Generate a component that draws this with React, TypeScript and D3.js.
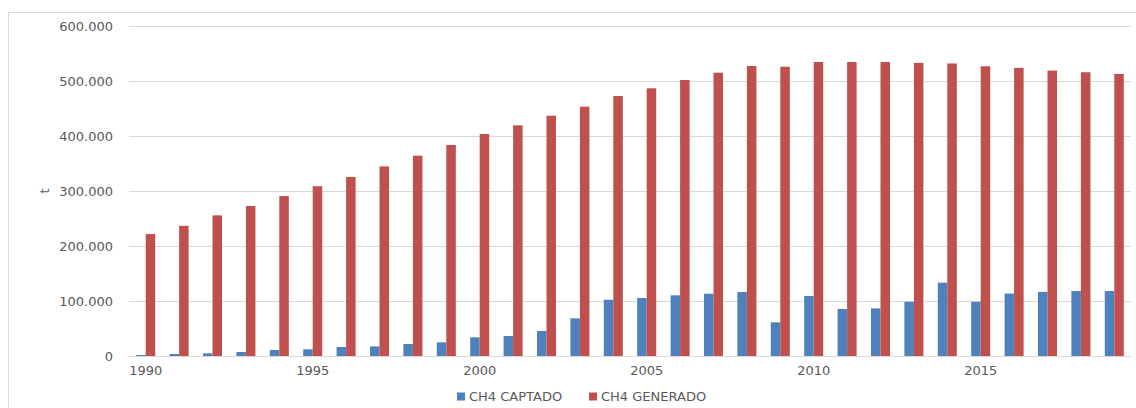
import React from "react";
import * as d3 from "d3";

const years: number[] = [
  1990, 1991, 1992, 1993, 1994, 1995, 1996, 1997, 1998, 1999,
  2000, 2001, 2002, 2003, 2004, 2005, 2006, 2007, 2008, 2009,
  2010, 2011, 2012, 2013, 2014, 2015, 2016, 2017, 2018, 2019,
];

const captado: number[] = [
  2400, 4200, 5400, 7800, 11400, 12700, 16900, 18000, 22300, 25400,
  34500, 36900, 46000, 69000, 102800, 105900, 110800, 113700, 116800, 61700,
  109500, 86000, 87000, 99000, 133700, 99000, 114000, 117000, 118600, 118600,
];

const generado: number[] = [
  222000, 237000, 256000, 273000, 291000, 309000, 325700, 345000, 364400, 383800,
  403800, 419600, 437000, 453400, 472800, 486800, 501900, 515200, 527300, 526000,
  534600, 534600, 534600, 533000, 532000, 526800, 524000, 519000, 516000, 513000,
];

const yTicks: number[] = [0, 100000, 200000, 300000, 400000, 500000, 600000];
const xTickLabels: number[] = [1990, 1995, 2000, 2005, 2010, 2015];
const seriesNames: string[] = ["CH4 CAPTADO", "CH4 GENERADO"];
const seriesColors: string[] = ["#4F81BD", "#C0504D"];

const W = 1136;
const H = 408;
const left = 129;
const right = 1131;
const top = 26;
const bottom = 356.3;

const locale = d3.formatLocale({
  decimal: ",",
  thousands: ".",
  grouping: [3],
  currency: ["", ""],
});
const fmt = locale.format(",d");

export default function App() {
  const x = d3
    .scaleBand<number>()
    .domain(years)
    .range([left, right])
    .paddingInner(0.43)
    .paddingOuter(0.215);
  const xCat = d3.scaleBand<number>().domain(years).range([left, right]);
  const y = d3.scaleLinear().domain([0, 600000]).range([bottom, top]);
  const bw = x.bandwidth() / 2;
  const series = [captado, generado];
  const font = "'DejaVu Sans', sans-serif";
  const textColor = "#595959";

  return (
    <svg
      width={W}
      height={H}
      style={{ position: "absolute", left: 0, top: 0, background: "#fff" }}
    >
      <rect x={8.5} y={12.5} width={W + 10} height={H + 10} fill="#fff" stroke="#d9d9d9" strokeWidth={1} />
      {yTicks.map((t) => (
        <g key={t}>
          {t > 0 && (
            <line x1={left} x2={right} y1={Math.round(y(t)) + 0.5} y2={Math.round(y(t)) + 0.5} stroke="#d9d9d9" strokeWidth={1} />
          )}
          <text
            x={113}
            y={y(t)}
            dy="0.35em"
            textAnchor="end"
            fontFamily={font}
            fontSize={13}
            fill={textColor}
          >
            {fmt(t)}
          </text>
        </g>
      ))}
      {years.map((yr, i) =>
        series.map((vals, s) => (
          <rect
            key={`${yr}-${s}`}
            x={(x(yr) as number) + s * bw}
            y={y(vals[i])}
            width={bw}
            height={bottom - y(vals[i])}
            fill={seriesColors[s]}
          />
        ))
      )}
      <line x1={left} x2={right} y1={Math.round(bottom) + 0.5} y2={Math.round(bottom) + 0.5} stroke="#d9d9d9" strokeWidth={1} />
      {xTickLabels.map((yr) => (
        <text
          key={yr}
          x={(xCat(yr) as number) + xCat.bandwidth() / 2}
          y={370}
          dy="0.35em"
          textAnchor="middle"
          fontFamily={font}
          fontSize={13}
          fill={textColor}
        >
          {yr}
        </text>
      ))}
      <text
        transform={`translate(44,191) rotate(-90)`}
        textAnchor="middle"
        dy="0.35em"
        fontFamily={font}
        fontSize={13}
        fill={textColor}
      >
        t
      </text>
      {seriesNames.map((name, s) => {
        const lx = s === 0 ? 457 : 589;
        return (
          <g key={name}>
            <rect x={lx} y={392.5} width={8} height={8} fill={seriesColors[s]} />
            <text
              x={lx + 12}
              y={396.5}
              dy="0.35em"
              fontFamily={font}
              fontSize={13}
              fill={textColor}
            >
              {name}
            </text>
          </g>
        );
      })}
    </svg>
  );
}
